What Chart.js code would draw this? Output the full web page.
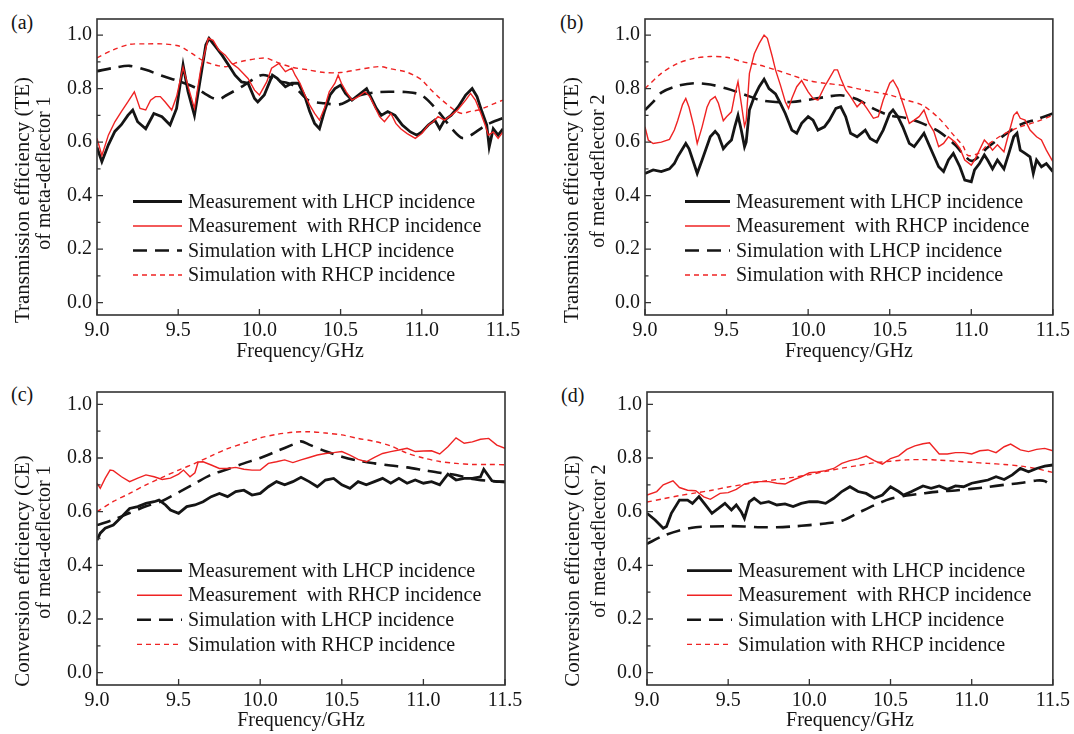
<!DOCTYPE html>
<html>
<head>
<meta charset="utf-8">
<title>Meta-deflector efficiency</title>
<script src="https://cdn.jsdelivr.net/npm/chart.js@4.4.0/dist/chart.umd.min.js"></script>
<style>
  html, body { margin: 0; padding: 0; background: #fff; overflow: hidden; }
  #wrap { position: relative; width: 1074px; height: 734px; }
  .panel { position: absolute; }
  .tag { position: absolute; font: 20px "Liberation Serif", "Times New Roman", serif; color: #151515; line-height: 24px; }
  .ytitle { position: absolute; z-index: 2; white-space: nowrap; line-height: 1; color: #151515;
            font-family: "Liberation Serif", "Times New Roman", serif;
            transform: translate(-50%, -50%) rotate(-90deg); }
</style>
</head>
<body>
<div id="wrap">
  <div class="tag" style="left:11px;top:10px">(a)</div>
  <div class="tag" style="left:560px;top:10px">(b)</div>
  <div class="tag" style="left:11px;top:382px">(c)</div>
  <div class="tag" style="left:561px;top:383px">(d)</div>
  <canvas class="panel" id="pa" width="530" height="365" style="left:0;top:0"></canvas>
  <canvas class="panel" id="pb" width="526" height="365" style="left:548px;top:0"></canvas>
  <canvas class="panel" id="pc" width="530" height="361" style="left:0;top:373px"></canvas>
  <canvas class="panel" id="pd" width="524" height="361" style="left:550px;top:373px"></canvas>
  <div class="ytitle" style="left:22px;top:200px;font-size:21px">Transmission efficiency (TE)</div>
  <div class="ytitle" style="left:43px;top:173px;font-size:20px">of meta-deflector 1</div>
  <div class="ytitle" style="left:571px;top:200px;font-size:21px">Transmission efficiency (TE)</div>
  <div class="ytitle" style="left:597px;top:171px;font-size:20px">of meta-deflector 2</div>
  <div class="ytitle" style="left:22px;top:571px;font-size:21px">Conversion efficiency (CE)</div>
  <div class="ytitle" style="left:43px;top:542px;font-size:20px">of meta-deflector 1</div>
  <div class="ytitle" style="left:572px;top:571px;font-size:21px">Conversion efficiency (CE)</div>
  <div class="ytitle" style="left:598px;top:541px;font-size:20px">of meta-deflector 2</div>
</div>
<script>
// ---- axes / labels ----
const xTickVals = [9.0, 9.5, 10.0, 10.5, 11.0, 11.5];
const yTickVals = [0.0, 0.2, 0.4, 0.6, 0.8, 1.0];
const yMinorVals = [0.1, 0.3, 0.5, 0.7, 0.9];
const legendLabels = [
  'Measurement with LHCP incidence',
  'Measurement  with RHCP incidence',
  'Simulation with LHCP incidence',
  'Simulation with RHCP incidence'
];

// ---- (a) transmission, meta-deflector 1 ----
const aMeasLhcpF = [9.0, 9.03, 9.07, 9.11, 9.15, 9.19, 9.22, 9.25, 9.3, 9.35, 9.4, 9.45, 9.49, 9.53, 9.56, 9.6, 9.64, 9.67, 9.69, 9.73, 9.77, 9.81, 9.85, 9.89, 9.93, 9.97, 9.99, 10.03, 10.08, 10.11, 10.16, 10.2, 10.24, 10.28, 10.31, 10.34, 10.37, 10.4, 10.435, 10.465, 10.5, 10.53, 10.57, 10.61, 10.66, 10.69, 10.72, 10.75, 10.79, 10.835, 10.88, 10.93, 10.97, 11.0, 11.04, 11.08, 11.11, 11.14, 11.18, 11.225, 11.27, 11.31, 11.34, 11.37, 11.4, 11.415, 11.44, 11.47, 11.5];
const aMeasLhcp = [0.58, 0.527, 0.59, 0.64, 0.665, 0.70, 0.72, 0.676, 0.65, 0.707, 0.695, 0.664, 0.726, 0.888, 0.79, 0.70, 0.85, 0.963, 0.988, 0.957, 0.925, 0.888, 0.85, 0.825, 0.82, 0.763, 0.75, 0.776, 0.85, 0.838, 0.807, 0.82, 0.82, 0.77, 0.714, 0.67, 0.65, 0.714, 0.776, 0.80, 0.813, 0.782, 0.757, 0.776, 0.80, 0.763, 0.726, 0.70, 0.714, 0.70, 0.664, 0.638, 0.626, 0.638, 0.664, 0.682, 0.65, 0.682, 0.70, 0.732, 0.776, 0.80, 0.77, 0.714, 0.664, 0.582, 0.65, 0.626, 0.65];
const aMeasRhcpF = [9.0, 9.03, 9.07, 9.11, 9.15, 9.19, 9.23, 9.265, 9.3, 9.33, 9.36, 9.39, 9.42, 9.46, 9.49, 9.53, 9.56, 9.6, 9.64, 9.685, 9.715, 9.75, 9.79, 9.83, 9.87, 9.93, 9.97, 10.0, 10.045, 10.075, 10.12, 10.16, 10.2, 10.22, 10.25, 10.28, 10.31, 10.34, 10.37, 10.4, 10.43, 10.465, 10.485, 10.505, 10.535, 10.57, 10.61, 10.65, 10.68, 10.71, 10.74, 10.77, 10.81, 10.84, 10.87, 10.91, 10.96, 11.0, 11.04, 11.07, 11.1, 11.14, 11.18, 11.22, 11.27, 11.3, 11.33, 11.36, 11.39, 11.41, 11.44, 11.47, 11.5];
const aMeasRhcp = [0.614, 0.55, 0.626, 0.676, 0.714, 0.75, 0.788, 0.726, 0.72, 0.757, 0.77, 0.77, 0.75, 0.72, 0.77, 0.88, 0.81, 0.726, 0.876, 0.988, 0.98, 0.944, 0.925, 0.894, 0.876, 0.838, 0.794, 0.776, 0.825, 0.876, 0.894, 0.863, 0.876, 0.85, 0.82, 0.776, 0.738, 0.707, 0.682, 0.726, 0.788, 0.82, 0.85, 0.82, 0.788, 0.757, 0.77, 0.788, 0.77, 0.732, 0.695, 0.676, 0.707, 0.67, 0.65, 0.632, 0.614, 0.632, 0.664, 0.676, 0.695, 0.682, 0.70, 0.72, 0.757, 0.782, 0.757, 0.713, 0.664, 0.626, 0.638, 0.614, 0.638];
const aSimLhcpF = [9.0, 9.1, 9.2, 9.3, 9.4, 9.5, 9.6, 9.7, 9.75, 9.8, 9.9, 10.0, 10.05, 10.1, 10.2, 10.3, 10.4, 10.5, 10.6, 10.7, 10.8, 10.9, 11.0, 11.1, 11.2, 11.25, 11.3, 11.4, 11.5];
const aSimLhcp = [0.865, 0.877, 0.885, 0.87, 0.848, 0.828, 0.805, 0.768, 0.76, 0.776, 0.81, 0.848, 0.848, 0.83, 0.815, 0.757, 0.745, 0.742, 0.772, 0.785, 0.788, 0.787, 0.775, 0.715, 0.64, 0.615, 0.625, 0.665, 0.69];
const aSimRhcpF = [9.0, 9.1, 9.2, 9.3, 9.4, 9.5, 9.55, 9.6, 9.65, 9.7, 9.75, 9.8, 9.85, 9.9, 10.0, 10.05, 10.1, 10.2, 10.3, 10.4, 10.5, 10.6, 10.7, 10.75, 10.8, 10.9, 10.95, 11.0, 11.05, 11.1, 11.2, 11.25, 11.3, 11.35, 11.4, 11.45, 11.5];
const aSimRhcp = [0.915, 0.945, 0.965, 0.967, 0.967, 0.96, 0.945, 0.925, 0.905, 0.893, 0.885, 0.882, 0.895, 0.903, 0.913, 0.913, 0.90, 0.88, 0.87, 0.86, 0.86, 0.87, 0.88, 0.882, 0.875, 0.863, 0.85, 0.832, 0.80, 0.77, 0.72, 0.707, 0.715, 0.72, 0.732, 0.745, 0.757];

// ---- (b) transmission, meta-deflector 2 ----
const bMeasLhcpF = [9.0, 9.05, 9.1, 9.15, 9.18, 9.2, 9.25, 9.27, 9.3, 9.32, 9.35, 9.4, 9.43, 9.45, 9.48, 9.5, 9.53, 9.55, 9.57, 9.59, 9.61, 9.62, 9.64, 9.67, 9.7, 9.73, 9.76, 9.8, 9.83, 9.86, 9.9, 9.93, 9.96, 10.0, 10.03, 10.06, 10.1, 10.13, 10.17, 10.2, 10.23, 10.26, 10.3, 10.35, 10.38, 10.42, 10.46, 10.5, 10.52, 10.55, 10.58, 10.62, 10.65, 10.68, 10.71, 10.75, 10.8, 10.83, 10.86, 10.89, 10.93, 10.96, 11.0, 11.02, 11.05, 11.08, 11.1, 11.13, 11.16, 11.2, 11.23, 11.26, 11.28, 11.3, 11.33, 11.36, 11.38, 11.4, 11.43, 11.46, 11.5];
const bMeasLhcp = [0.483, 0.496, 0.49, 0.50, 0.52, 0.545, 0.595, 0.575, 0.52, 0.483, 0.533, 0.62, 0.64, 0.626, 0.575, 0.59, 0.608, 0.657, 0.70, 0.645, 0.583, 0.60, 0.72, 0.77, 0.807, 0.835, 0.80, 0.78, 0.745, 0.707, 0.645, 0.633, 0.67, 0.695, 0.682, 0.645, 0.657, 0.682, 0.726, 0.732, 0.695, 0.633, 0.62, 0.645, 0.614, 0.60, 0.645, 0.707, 0.72, 0.695, 0.657, 0.595, 0.583, 0.608, 0.633, 0.577, 0.508, 0.49, 0.533, 0.558, 0.508, 0.458, 0.452, 0.496, 0.52, 0.552, 0.533, 0.50, 0.533, 0.50, 0.558, 0.62, 0.633, 0.57, 0.558, 0.545, 0.483, 0.533, 0.508, 0.52, 0.49];
const bMeasRhcpF = [9.0, 9.02, 9.05, 9.1, 9.15, 9.18, 9.2, 9.23, 9.25, 9.27, 9.3, 9.32, 9.35, 9.38, 9.4, 9.43, 9.45, 9.48, 9.5, 9.53, 9.55, 9.57, 9.59, 9.61, 9.62, 9.64, 9.67, 9.7, 9.73, 9.75, 9.78, 9.8, 9.83, 9.86, 9.88, 9.9, 9.93, 9.96, 10.0, 10.03, 10.06, 10.1, 10.13, 10.16, 10.18, 10.2, 10.23, 10.26, 10.3, 10.33, 10.36, 10.4, 10.43, 10.46, 10.5, 10.52, 10.55, 10.58, 10.62, 10.65, 10.68, 10.71, 10.74, 10.77, 10.8, 10.83, 10.86, 10.9, 10.93, 10.96, 11.0, 11.02, 11.05, 11.08, 11.1, 11.13, 11.16, 11.2, 11.23, 11.26, 11.28, 11.3, 11.33, 11.36, 11.4, 11.43, 11.46, 11.5];
const bMeasRhcp = [0.657, 0.608, 0.595, 0.60, 0.61, 0.645, 0.68, 0.74, 0.763, 0.73, 0.657, 0.595, 0.657, 0.73, 0.757, 0.77, 0.745, 0.68, 0.695, 0.713, 0.776, 0.826, 0.745, 0.66, 0.68, 0.857, 0.93, 0.969, 1.0, 0.988, 0.92, 0.87, 0.813, 0.751, 0.726, 0.763, 0.807, 0.83, 0.788, 0.763, 0.757, 0.807, 0.838, 0.87, 0.87, 0.838, 0.795, 0.77, 0.732, 0.751, 0.726, 0.689, 0.695, 0.757, 0.82, 0.832, 0.80, 0.745, 0.67, 0.682, 0.695, 0.72, 0.67, 0.64, 0.583, 0.595, 0.62, 0.60, 0.577, 0.533, 0.514, 0.533, 0.57, 0.608, 0.595, 0.57, 0.59, 0.564, 0.633, 0.70, 0.713, 0.689, 0.682, 0.645, 0.62, 0.608, 0.57, 0.527];
const bSimLhcpF = [9.0, 9.05, 9.1, 9.2, 9.3, 9.4, 9.5, 9.6, 9.7, 9.8, 9.9, 10.0, 10.1, 10.2, 10.3, 10.4, 10.5, 10.6, 10.7, 10.8, 10.9, 10.95, 11.0, 11.05, 11.1, 11.2, 11.3, 11.4, 11.5];
const bSimLhcp = [0.72, 0.75, 0.785, 0.81, 0.82, 0.815, 0.80, 0.78, 0.758, 0.75, 0.75, 0.758, 0.768, 0.775, 0.76, 0.725, 0.70, 0.69, 0.67, 0.64, 0.59, 0.555, 0.53, 0.548, 0.58, 0.625, 0.665, 0.685, 0.707];
const bSimRhcpF = [9.0, 9.1, 9.2, 9.3, 9.4, 9.5, 9.6, 9.7, 9.8, 9.9, 10.0, 10.1, 10.2, 10.3, 10.4, 10.5, 10.6, 10.7, 10.8, 10.9, 10.95, 10.98, 11.05, 11.1, 11.2, 11.3, 11.4, 11.5];
const bSimRhcp = [0.80, 0.857, 0.894, 0.913, 0.92, 0.917, 0.90, 0.888, 0.87, 0.85, 0.83, 0.82, 0.813, 0.80, 0.788, 0.776, 0.757, 0.738, 0.69, 0.62, 0.585, 0.55, 0.56, 0.59, 0.63, 0.657, 0.676, 0.70];

// ---- (c) conversion, meta-deflector 1 ----
const cMeasLhcpF = [9.0, 9.02, 9.05, 9.1, 9.15, 9.2, 9.25, 9.3, 9.35, 9.38, 9.42, 9.45, 9.5, 9.55, 9.6, 9.65, 9.7, 9.75, 9.8, 9.85, 9.9, 9.95, 10.0, 10.05, 10.1, 10.15, 10.2, 10.25, 10.3, 10.35, 10.4, 10.45, 10.5, 10.55, 10.6, 10.65, 10.7, 10.75, 10.8, 10.85, 10.9, 10.95, 11.0, 11.05, 11.1, 11.15, 11.2, 11.25, 11.3, 11.35, 11.37, 11.42, 11.45, 11.5];
const cMeasLhcp = [0.494, 0.52, 0.538, 0.55, 0.58, 0.612, 0.619, 0.631, 0.637, 0.643, 0.625, 0.606, 0.594, 0.619, 0.625, 0.637, 0.656, 0.668, 0.656, 0.675, 0.68, 0.662, 0.668, 0.693, 0.712, 0.70, 0.712, 0.728, 0.712, 0.693, 0.718, 0.724, 0.70, 0.687, 0.712, 0.70, 0.712, 0.724, 0.706, 0.724, 0.706, 0.718, 0.706, 0.712, 0.70, 0.74, 0.718, 0.724, 0.724, 0.73, 0.758, 0.715, 0.712, 0.712];
const cMeasRhcpF = [9.0, 9.02, 9.05, 9.08, 9.1, 9.15, 9.2, 9.25, 9.3, 9.35, 9.4, 9.45, 9.5, 9.53, 9.57, 9.6, 9.62, 9.65, 9.7, 9.75, 9.8, 9.85, 9.9, 9.95, 10.0, 10.05, 10.1, 10.15, 10.2, 10.25, 10.3, 10.35, 10.4, 10.45, 10.5, 10.55, 10.6, 10.65, 10.7, 10.75, 10.8, 10.85, 10.9, 10.95, 11.0, 11.05, 11.1, 11.15, 11.2, 11.25, 11.3, 11.35, 11.4, 11.45, 11.5];
const cMeasRhcp = [0.706, 0.687, 0.724, 0.755, 0.753, 0.73, 0.712, 0.725, 0.737, 0.73, 0.72, 0.725, 0.74, 0.755, 0.73, 0.745, 0.785, 0.786, 0.774, 0.761, 0.761, 0.765, 0.758, 0.755, 0.755, 0.78, 0.786, 0.793, 0.783, 0.793, 0.802, 0.811, 0.817, 0.82, 0.824, 0.811, 0.795, 0.786, 0.802, 0.817, 0.824, 0.83, 0.836, 0.824, 0.826, 0.827, 0.815, 0.842, 0.875, 0.855, 0.86, 0.87, 0.873, 0.848, 0.836];
const cSimLhcpF = [9.0, 9.1, 9.2, 9.3, 9.4, 9.5, 9.6, 9.7, 9.8, 9.9, 10.0, 10.1, 10.2, 10.25, 10.3, 10.4, 10.5, 10.6, 10.7, 10.8, 10.9, 11.0, 11.1, 11.2, 11.3, 11.4, 11.5];
const cSimLhcp = [0.55, 0.57, 0.595, 0.62, 0.64, 0.672, 0.705, 0.738, 0.758, 0.78, 0.80, 0.825, 0.85, 0.862, 0.85, 0.825, 0.805, 0.79, 0.78, 0.772, 0.765, 0.755, 0.745, 0.737, 0.722, 0.715, 0.71];
const cSimRhcpF = [9.0, 9.1, 9.2, 9.3, 9.4, 9.5, 9.6, 9.7, 9.8, 9.9, 10.0, 10.1, 10.2, 10.3, 10.4, 10.5, 10.6, 10.7, 10.8, 10.9, 11.0, 11.1, 11.2, 11.3, 11.4, 11.5];
const cSimRhcp = [0.60, 0.638, 0.668, 0.70, 0.728, 0.755, 0.78, 0.808, 0.835, 0.855, 0.875, 0.888, 0.896, 0.898, 0.893, 0.886, 0.873, 0.862, 0.845, 0.818, 0.80, 0.787, 0.78, 0.776, 0.776, 0.775];

// ---- (d) conversion, meta-deflector 2 ----
const dMeasLhcpF = [9.0, 9.05, 9.1, 9.12, 9.15, 9.2, 9.25, 9.28, 9.32, 9.36, 9.4, 9.44, 9.48, 9.52, 9.55, 9.58, 9.6, 9.63, 9.66, 9.7, 9.75, 9.8, 9.85, 9.9, 9.95, 10.0, 10.05, 10.1, 10.15, 10.2, 10.25, 10.3, 10.35, 10.4, 10.45, 10.5, 10.55, 10.58, 10.63, 10.7, 10.75, 10.8, 10.85, 10.9, 10.95, 11.0, 11.05, 11.1, 11.15, 11.2, 11.25, 11.3, 11.35, 11.4, 11.45, 11.5];
const dMeasLhcp = [0.594, 0.569, 0.538, 0.545, 0.594, 0.643, 0.643, 0.631, 0.656, 0.625, 0.594, 0.612, 0.631, 0.606, 0.625, 0.60, 0.575, 0.637, 0.65, 0.631, 0.637, 0.625, 0.629, 0.619, 0.631, 0.637, 0.637, 0.631, 0.65, 0.675, 0.693, 0.675, 0.668, 0.65, 0.662, 0.693, 0.675, 0.662, 0.675, 0.696, 0.687, 0.696, 0.683, 0.696, 0.693, 0.706, 0.712, 0.718, 0.73, 0.72, 0.737, 0.761, 0.749, 0.761, 0.77, 0.774];
const dMeasRhcpF = [9.0, 9.06, 9.1, 9.16, 9.2, 9.25, 9.3, 9.35, 9.39, 9.45, 9.5, 9.55, 9.6, 9.65, 9.7, 9.75, 9.8, 9.85, 9.9, 9.95, 10.0, 10.05, 10.1, 10.15, 10.2, 10.25, 10.3, 10.35, 10.4, 10.45, 10.5, 10.55, 10.6, 10.65, 10.7, 10.74, 10.8, 10.85, 10.9, 10.95, 11.0, 11.05, 11.1, 11.15, 11.2, 11.24, 11.3, 11.35, 11.4, 11.45, 11.5];
const dMeasRhcp = [0.662, 0.675, 0.70, 0.715, 0.69, 0.68, 0.678, 0.655, 0.646, 0.668, 0.671, 0.683, 0.703, 0.71, 0.712, 0.712, 0.706, 0.703, 0.718, 0.73, 0.745, 0.748, 0.753, 0.761, 0.78, 0.79, 0.797, 0.807, 0.79, 0.777, 0.798, 0.808, 0.832, 0.845, 0.853, 0.857, 0.815, 0.815, 0.82, 0.82, 0.815, 0.827, 0.83, 0.82, 0.842, 0.852, 0.83, 0.824, 0.832, 0.836, 0.827];
const dSimLhcpF = [9.0, 9.1, 9.2, 9.3, 9.4, 9.5, 9.6, 9.7, 9.8, 9.9, 10.0, 10.1, 10.2, 10.3, 10.4, 10.5, 10.6, 10.7, 10.8, 10.9, 11.0, 11.1, 11.2, 11.3, 11.4, 11.45, 11.5];
const dSimLhcp = [0.48, 0.51, 0.53, 0.542, 0.545, 0.546, 0.545, 0.542, 0.542, 0.545, 0.55, 0.556, 0.566, 0.595, 0.624, 0.648, 0.66, 0.668, 0.675, 0.679, 0.685, 0.692, 0.70, 0.707, 0.716, 0.714, 0.69];
const dSimRhcpF = [9.0, 9.1, 9.2, 9.3, 9.4, 9.5, 9.6, 9.7, 9.8, 9.9, 10.0, 10.1, 10.2, 10.3, 10.4, 10.5, 10.6, 10.7, 10.8, 10.9, 11.0, 11.1, 11.2, 11.3, 11.4, 11.5];
const dSimRhcp = [0.636, 0.648, 0.66, 0.67, 0.68, 0.692, 0.702, 0.712, 0.72, 0.728, 0.738, 0.75, 0.762, 0.772, 0.782, 0.788, 0.793, 0.794, 0.792, 0.788, 0.784, 0.78, 0.776, 0.77, 0.76, 0.746];

// ==========================================
const INK = '#151515';
const RED = '#ef2323';
Chart.defaults.font.family = '"Liberation Serif", "Times New Roman", serif';
Chart.defaults.color = INK;

// line look for each legend row, same order as legendLabels
const seriesStyle = [
  { borderColor: INK, borderWidth: 2.8, borderDash: [], order: 2 },
  { borderColor: RED, borderWidth: 1.4, borderDash: [], order: 1 },
  { borderColor: INK, borderWidth: 2.6, borderDash: [14, 8], order: 4 },
  { borderColor: RED, borderWidth: 1.4, borderDash: [5, 4], order: 3 }
];

function pts(f, v) { return f.map((x, i) => ({ x: x, y: v[i] })); }

// box round the plot + inward tick marks on left and bottom
const frameTicks = {
  id: 'frameTicks',
  afterDatasetsDraw(chart) {
    const { ctx, chartArea: a, scales: { x, y } } = chart;
    ctx.save();
    ctx.strokeStyle = '#333';
    ctx.lineWidth = 1.6;
    ctx.strokeRect(a.left, a.top, a.right - a.left, a.bottom - a.top);
    ctx.lineWidth = 1.3;
    ctx.beginPath();
    xTickVals.forEach(v => { const px = x.getPixelForValue(v); ctx.moveTo(px, a.bottom); ctx.lineTo(px, a.bottom - 6); });
    yTickVals.forEach(v => { const py = y.getPixelForValue(v); ctx.moveTo(a.left, py); ctx.lineTo(a.left + 6, py); });
    yMinorVals.forEach(v => { const py = y.getPixelForValue(v); ctx.moveTo(a.left, py); ctx.lineTo(a.left + 3.5, py); });
    ctx.stroke();
    ctx.restore();
  }
};

// legend drawn inside the plot, lower half
const insideLegend = {
  id: 'insideLegend',
  afterDraw(chart, args, opts) {
    const { ctx, chartArea: a, scales: { y } } = chart;
    ctx.save();
    ctx.font = '20px "Liberation Serif", "Times New Roman", serif';
    ctx.textBaseline = 'middle';
    chart.data.datasets.forEach((ds, i) => {
      const py = y.getPixelForValue(opts.top - i * opts.step);
      ctx.strokeStyle = ds.borderColor;
      ctx.lineWidth = ds.borderWidth;
      ctx.setLineDash(ds.borderDash);
      ctx.beginPath();
      ctx.moveTo(a.left + opts.x0, py);
      ctx.lineTo(a.left + opts.x1, py);
      ctx.stroke();
      ctx.setLineDash([]);
      ctx.fillStyle = INK;
      ctx.fillText(ds.label, a.left + opts.x1 + 6, py + 1);
    });
    ctx.restore();
  }
};

function makePanel(id, series, lay) {
  new Chart(document.getElementById(id), {
    type: 'line',
    data: {
      datasets: series.map((s, i) => Object.assign({
        label: legendLabels[i], data: s, pointRadius: 0, tension: i < 2 ? 0 : 0.3, fill: false
      }, seriesStyle[i]))
    },
    options: {
      responsive: false,
      animation: false,
      layout: { padding: { top: lay.padTop, right: lay.padRight, left: 0, bottom: 0 } },
      plugins: {
        legend: { display: false },
        tooltip: { enabled: false },
        insideLegend: { top: lay.legTop, step: 0.0915, x0: lay.legX0, x1: 85 }
      },
      scales: {
        x: {
          type: 'linear', min: 9, max: 11.5,
          afterBuildTicks: s => { s.ticks = xTickVals.map(v => ({ value: v })); },
          afterFit: s => { s.height = lay.xh; },
          grid: { display: false, drawTicks: false },
          border: { display: false },
          ticks: { font: { size: 20 }, color: INK, padding: 4, maxRotation: 0, autoSkip: false, callback: v => v.toFixed(1) },
          title: { display: true, text: 'Frequency/GHz', font: { size: 20 }, color: INK, padding: { top: 0, bottom: 1 } }
        },
        y: {
          type: 'linear', min: -0.046, max: lay.ymax,
          afterBuildTicks: s => { s.ticks = yTickVals.map(v => ({ value: v })); },
          afterFit: s => { s.width = 97; },
          grid: { display: false, drawTicks: false },
          border: { display: false },
          ticks: { font: { size: 20 }, color: INK, padding: 5, callback: v => v.toFixed(1) },
          title: { display: false }
        }
      }
    },
    plugins: [frameTicks, insideLegend]
  });
}

makePanel('pa',
  [pts(aMeasLhcpF, aMeasLhcp), pts(aMeasRhcpF, aMeasRhcp), pts(aSimLhcpF, aSimLhcp), pts(aSimRhcpF, aSimRhcp)],
  { padTop: 19, padRight: 27, xh: 50, ymax: 1.06, legTop: 0.378, legX0: 36 });

makePanel('pb',
  [pts(bMeasLhcpF, bMeasLhcp), pts(bMeasRhcpF, bMeasRhcp), pts(bSimLhcpF, bSimLhcp), pts(bSimRhcpF, bSimRhcp)],
  { padTop: 19, padRight: 21, xh: 50, ymax: 1.06, legTop: 0.378, legX0: 40 });

makePanel('pc',
  [pts(cMeasLhcpF, cMeasLhcp), pts(cMeasRhcpF, cMeasRhcp), pts(cSimLhcpF, cSimLhcp), pts(cSimRhcpF, cSimRhcp)],
  { padTop: 19, padRight: 25, xh: 49, ymax: 1.046, legTop: 0.38, legX0: 40 });

makePanel('pd',
  [pts(dMeasLhcpF, dMeasLhcp), pts(dMeasRhcpF, dMeasRhcp), pts(dSimLhcpF, dSimLhcp), pts(dSimRhcpF, dSimRhcp)],
  { padTop: 19, padRight: 20, xh: 49, ymax: 1.046, legTop: 0.38, legX0: 40 });
</script>
</body>
</html>
